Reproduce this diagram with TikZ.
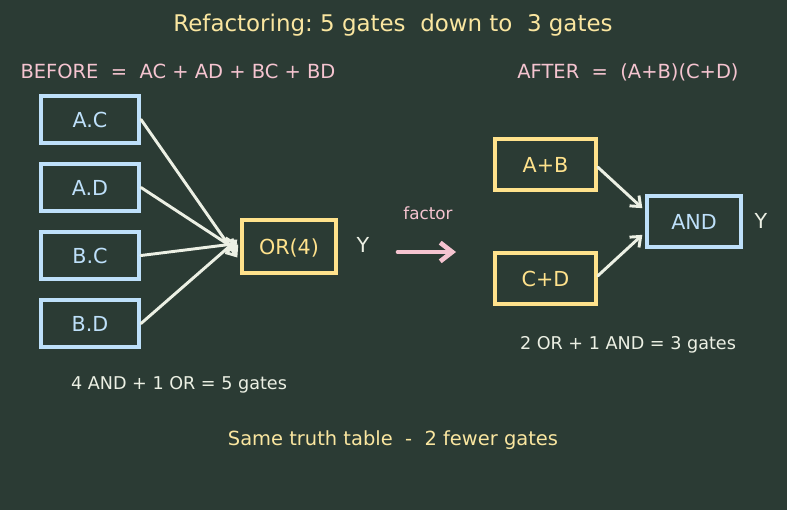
\documentclass[tikz,border=0pt]{standalone}
\usepackage{fontspec}
\setmainfont{DejaVu Sans}
\usetikzlibrary{arrows.meta}
\frenchspacing
\definecolor{boardbg}{RGB}{43,59,52}
\definecolor{chalkyel}{RGB}{250,230,160}
\definecolor{chalkpink}{RGB}{245,196,208}
\definecolor{chalkblue}{RGB}{190,224,250}
\definecolor{boxyel}{RGB}{255,226,140}
\definecolor{chalkwht}{RGB}{236,240,228}
\newcommand{\px}[1]{\fontsize{#1}{#1}\selectfont}
\tikzset{
  andg/.style={draw=chalkblue, line width=3pt, text=chalkblue, font=\px{15.5},
    minimum width=73.5pt, minimum height=35.5pt, inner sep=0pt, text depth=0pt},
  org/.style={andg, draw=boxyel, text=boxyel},
  wire/.style={-{Straight Barb[length=6.5pt,width=10.5pt]}, chalkwht, line width=2.2pt, line cap=round},
  fact/.style={-{Straight Barb[length=9pt,width=14pt]}, chalkpink, line width=3.5pt, line cap=round},
  ttl/.style={anchor=base, font=\px{17.2}, text=chalkyel},
  eqn/.style={anchor=base, font=\px{14.6}, text=chalkpink},
  cnt/.style={anchor=base, font=\px{13.2}, text=chalkwht},
  outl/.style={anchor=base, font=\px{15.5}, text=chalkwht},
}
\begin{document}
\begin{tikzpicture}[x=0.75pt, y=-0.75pt]
\fill[boardbg] (0,0) rectangle (787,510);
\useasboundingbox (0,0) rectangle (787,510);

\node[ttl] (title) at (393,32) {Refactoring: 5 gates\ \ down to\ \ 3 gates};
\node[eqn] (before) at (178,78) {BEFORE\ \ =\ \ AC + AD + BC + BD};
\node[eqn] (after) at (628,78) {AFTER\ \ =\ \ (A+B)(C+D)};

% sum of products
\node[andg] (ac) at (90,119.5) {A.C};
\node[andg] (ad) at (90,187.5) {A.D};
\node[andg] (bc) at (90,255.5) {B.C};
\node[andg] (bd) at (90,323.5) {B.D};
\node[org, minimum width=70.5pt, minimum height=40pt] (or4) at (289,246.5) {OR(4)};
\node[outl] (y1) at (363,252) {Y};
\foreach \g/\dy in {ac/-11, ad/-4, bc/3, bd/7}{
  \draw[wire] (\g.east) -- ([yshift=\dy*0.75pt, xshift=-2pt]or4.west);}
\node[cnt] (cost1) at (179,389) {4 AND + 1 OR = 5 gates};

% factor step
\coordinate (fs) at (398,252);
\coordinate (fe) at (456,252);
\draw[fact] (fs) -- (fe);
\node[anchor=base, font=\px{12.6}, text=chalkpink] (flab) at (428,219) {factor};

% product of sums
\node[org, minimum width=75.5pt, minimum height=38pt] (ab) at (545.5,164.5) {A+B};
\node[org, minimum width=75.5pt, minimum height=38pt] (cd) at (545.5,278.5) {C+D};
\node[andg, minimum width=70.5pt, minimum height=38pt] (and) at (694,221.5) {AND};
\node[outl] (y2) at (761,228) {Y};
\draw[wire] ([yshift=-2pt]ab.east) -- ([yshift=10pt, xshift=-2pt]and.west);
\draw[wire] ([yshift=2pt]cd.east) -- ([yshift=-10pt, xshift=-2pt]and.west);
\node[cnt] (cost2) at (628,349) {2 OR + 1 AND = 3 gates};

\node[anchor=base, font=\px{14.6}, text=chalkyel] (note) at (393,445) {Same truth table\ \ -\ \ 2 fewer gates};
\end{tikzpicture}
\end{document}
